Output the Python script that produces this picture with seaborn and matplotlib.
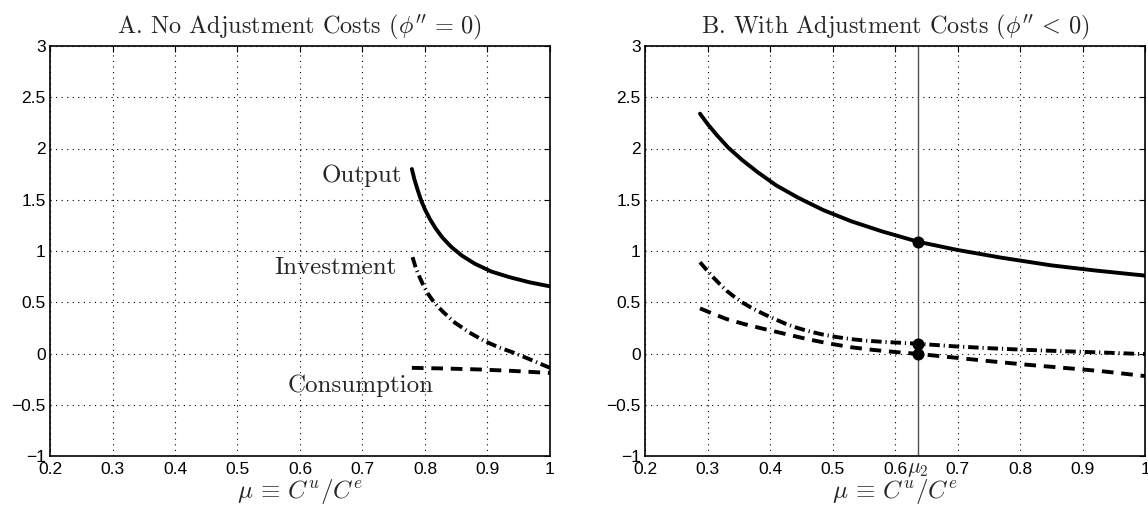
import numpy as np
import pandas as pd
import matplotlib
matplotlib.use("Agg")
import matplotlib.pyplot as plt
import matplotlib.transforms as mtransforms
import seaborn as sns

# ---- Data ----
# Panel A: no adjustment costs
a_out_x = [0.779, 0.783, 0.788, 0.794, 0.800, 0.808, 0.817, 0.828, 0.842, 0.859, 0.880,
           0.906, 0.935, 0.967, 1.000]
a_out_y = [1.80, 1.70, 1.60, 1.49, 1.405, 1.31, 1.22, 1.13, 1.04, 0.955, 0.875,
           0.80, 0.745, 0.695, 0.655]

a_inv_x = [0.780, 0.785, 0.791, 0.797, 0.804, 0.812, 0.821, 0.830, 0.848, 0.871, 0.894,
           0.918, 0.941, 0.965, 1.000]
a_inv_y = [0.94, 0.84, 0.75, 0.67, 0.59, 0.52, 0.455, 0.40, 0.30, 0.205, 0.125,
           0.06, 0.01, -0.05, -0.14]

a_con_x = [0.779, 0.830, 0.883, 0.941, 1.000]
a_con_y = [-0.140, -0.146, -0.155, -0.170, -0.190]

# Panel B: with adjustment costs
mu2 = 0.637
b_out_x = [0.288, 0.300, 0.315, 0.333, 0.355, 0.380, 0.410, 0.445, 0.485, 0.530, 0.580,
           0.637, 0.700, 0.770, 0.850, 0.920, 1.000]
b_out_y = [2.34, 2.24, 2.13, 2.01, 1.89, 1.77, 1.64, 1.52, 1.40, 1.29, 1.19,
           1.09, 1.01, 0.935, 0.86, 0.81, 0.76]

b_inv_x = [0.288, 0.298, 0.308, 0.320, 0.331, 0.343, 0.355, 0.372, 0.390, 0.408, 0.425,
           0.442, 0.460, 0.483, 0.507, 0.530, 0.554, 0.580, 0.601, 0.637, 0.695, 0.750,
           0.812, 0.870, 0.930, 1.000]
b_inv_y = [0.89, 0.82, 0.75, 0.675, 0.61, 0.553, 0.50, 0.44, 0.385, 0.335, 0.29,
           0.253, 0.22, 0.187, 0.16, 0.14, 0.125, 0.114, 0.107, 0.095, 0.07, 0.052,
           0.035, 0.022, 0.01, -0.006]

b_con_x = [0.288, 0.310, 0.331, 0.360, 0.390, 0.425, 0.460, 0.495, 0.531, 0.565, 0.601,
           0.637, 0.695, 0.750, 0.812, 0.870, 0.930, 1.000]
b_con_y = [0.44, 0.385, 0.335, 0.285, 0.24, 0.19, 0.14, 0.097, 0.06, 0.035, 0.014,
           -0.004, -0.04, -0.074, -0.11, -0.14, -0.172, -0.22]

b_dot_y = [1.09, 0.095, -0.004]

x_ticks = [0.2, 0.3, 0.4, 0.5, 0.6, 0.7, 0.8, 0.9, 1.0]
x_tick_labels = ["0.2", "0.3", "0.4", "0.5", "0.6", "0.7", "0.8", "0.9", "1"]
y_ticks = [-1, -0.5, 0, 0.5, 1, 1.5, 2, 2.5, 3]
y_tick_labels = ["\u22121", "\u22120.5", "0", "0.5", "1", "1.5", "2", "2.5", "3"]

titles = [r"A. No Adjustment Costs ($\phi''\,=\,0$)",
          r"B. With Adjustment Costs ($\phi''\,<\,0$)"]
xlabel = r"$\mu\,\equiv\,C^u/C^e$"

# ---- Style ----
sns.set_theme(style="white")
plt.rcParams["font.family"] = ["Liberation Sans", "DejaVu Sans"]
plt.rcParams["mathtext.fontset"] = "cm"
plt.rcParams["xtick.direction"] = "in"
plt.rcParams["ytick.direction"] = "in"

fig = plt.figure(figsize=(11.48, 5.17), dpi=100)
axA = fig.add_axes([50 / 1148, 1 - 456 / 517, 500 / 1148, 410 / 517])
axB = fig.add_axes([645 / 1148, 1 - 456 / 517, 500 / 1148, 410 / 517])

LW = 2.8
DASHDOT = (2.7, 1.0, 0.3, 1.0)
DASHED = (3.0, 2.0)


def draw(ax, ox, oy, ix, iy, cx, cy):
    sns.lineplot(x=ox, y=oy, ax=ax, sort=False, estimator=None, color="black", linewidth=LW)
    ax.lines[-1].set_solid_joinstyle("round")
    sns.lineplot(x=ix, y=iy, ax=ax, sort=False, estimator=None, color="black", linewidth=LW)
    ax.lines[-1].set_dashes(DASHDOT)
    ax.lines[-1].set_dash_capstyle("butt")
    sns.lineplot(x=cx, y=cy, ax=ax, sort=False, estimator=None, color="black", linewidth=LW)
    ax.lines[-1].set_dashes(DASHED)
    ax.lines[-1].set_dash_capstyle("butt")


draw(axA, a_out_x, a_out_y, a_inv_x, a_inv_y, a_con_x, a_con_y)
draw(axB, b_out_x, b_out_y, b_inv_x, b_inv_y, b_con_x, b_con_y)

# vertical line at mu2 and dots
axB.axvline(mu2, color="#505050", linewidth=1.0, zorder=1)
sns.scatterplot(x=[mu2] * 3, y=b_dot_y, ax=axB, color="black", s=75, zorder=5,
                edgecolor="black", linewidth=0)

for ax, t in zip([axA, axB], titles):
    ax.set_xlim(0.2, 1.0)
    ax.set_ylim(-1, 3)
    ax.set_xticks(x_ticks)
    ax.set_xticklabels(x_tick_labels)
    ax.set_yticks(y_ticks)
    ax.set_yticklabels(y_tick_labels)
    ax.tick_params(axis="both", labelsize=12.5, length=4, width=0.8, color="black",
                   top=True, right=True, labelcolor="black")
    ax.tick_params(axis="x", pad=4)
    ax.tick_params(axis="y", pad=3)
    ax.grid(True, color="black", linestyle=(0, (1, 4)), linewidth=0.8)
    for s in ax.spines.values():
        s.set_visible(True)
        s.set_color("black")
        s.set_linewidth(1.2)
    ax.set_title(t, family="cmr10", fontsize=17.5, pad=9)
    ax.set_xlabel(xlabel, fontsize=18, labelpad=0)
    ax.set_ylabel("")

# mu2 label on x axis
trans = mtransforms.blended_transform_factory(axB.transData, axB.transAxes)
axB.text(mu2, -0.004, r"$\mu_2$", transform=trans, ha="center", va="top", fontsize=15.5)

# panel A labels
axA.text(0.763, 1.67, "Output", family="cmr10", fontsize=18, ha="right", va="baseline")
axA.text(0.754, 0.775, "Investment", family="cmr10", fontsize=18, ha="right", va="baseline")
axA.text(0.581, -0.38, "Consumption", family="cmr10", fontsize=18, ha="left", va="baseline")

fig.savefig("out.png", dpi=100)
